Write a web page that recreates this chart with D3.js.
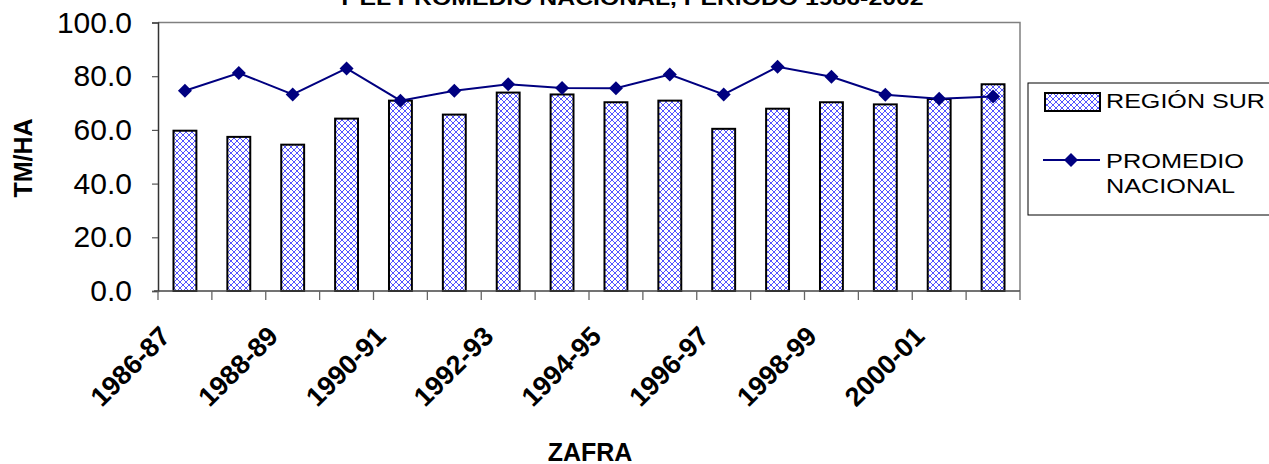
<!DOCTYPE html>
<html>
<head>
<meta charset="utf-8">
<script src="https://cdn.jsdelivr.net/npm/d3@7"></script>
<style>
  html, body { margin: 0; padding: 0; background: #fff; }
  svg { display: block; font-family: "Liberation Sans", Arial, sans-serif; }
</style>
</head>
<body>
<svg id="chart" width="1269" height="464"></svg>
<script>
// Zafras (harvest seasons)
const categories = ["1986-87","1987-88","1988-89","1989-90","1990-91","1991-92","1992-93","1993-94",
                    "1994-95","1995-96","1996-97","1997-98","1998-99","1999-00","2000-01","2001-02"];
// Yield, TM/HA
const regionSur = [59.7, 57.4, 54.5, 64.2, 70.9, 65.7, 73.9, 73.2, 70.3, 70.9, 60.4, 67.9, 70.3, 69.5, 71.5, 77.0];
const promedioNacional = [74.6, 81.2, 73.2, 82.9, 70.9, 74.6, 77.0, 75.6, 75.5, 80.6, 73.2, 83.5, 79.8, 73.1, 71.6, 72.4];
const yTicks = [0, 20, 40, 60, 80, 100];
const xTickLabels = ["1986-87","1988-89","1990-91","1992-93","1994-95","1996-97","1998-99","2000-01"];

const svg = d3.select("#chart");
const plotLeft = 158, plotRight = 1020, plotTop = 22.5, plotBottom = 291;

const x = d3.scaleBand().domain(categories).range([plotLeft, plotRight])
  .paddingInner(0.575).paddingOuter(0.2875);
const y = d3.scaleLinear().domain([0, 100]).range([plotBottom, plotTop]);

// crosshatch fill for the bars
const defs = svg.append("defs");
const pat = defs.append("pattern").attr("id", "hatch")
  .attr("patternUnits", "userSpaceOnUse").attr("width", 6).attr("height", 6);
pat.append("rect").attr("width", 6).attr("height", 6).attr("fill", "#fff");
pat.append("path").attr("d", "M0,0 L6,6 M6,0 L0,6")
  .attr("stroke", "#4040ff").attr("stroke-width", 0.9).attr("fill", "none");

// title (second line, partly above the frame)
svg.append("text").attr("x", 630).attr("y", 5).attr("text-anchor", "middle")
  .attr("font-weight", "bold").attr("font-size", 20)
  .attr("textLength", 587).attr("lengthAdjust", "spacingAndGlyphs")
  .text("Y EL PROMEDIO NACIONAL, PERIODO 1986-2002");

// plot frame (top and right)
svg.append("path").attr("d", `M${plotLeft},${plotTop} H${plotRight} V${plotBottom}`)
  .attr("fill", "none").attr("stroke", "#808080").attr("stroke-width", 1.5);

// bars
svg.append("g").selectAll("rect").data(regionSur).join("rect")
  .attr("x", (d, i) => x(categories[i]))
  .attr("width", x.bandwidth())
  .attr("y", d => y(d))
  .attr("height", d => y(0) - y(d))
  .attr("fill", "url(#hatch)")
  .attr("stroke", "#000").attr("stroke-width", 2);

// y axis
const yAxis = svg.append("g").attr("transform", `translate(${plotLeft},0)`)
  .call(d3.axisLeft(y).tickValues(yTicks).tickSize(6).tickPadding(20).tickFormat(d3.format(".1f")));
yAxis.select(".domain").attr("stroke", "#333").attr("stroke-width", 1.5);
yAxis.selectAll(".tick line").attr("stroke", "#555").attr("stroke-width", 1.2);
yAxis.selectAll(".tick text").attr("font-size", 30).attr("fill", "#000")
  .attr("font-family", "'Liberation Sans', Arial, sans-serif");

// x axis: tick marks on band boundaries
const step = x.step();
const bounds = d3.range(categories.length + 1).map(i => plotLeft + i * step);
svg.append("line").attr("x1", plotLeft - 4).attr("x2", plotRight).attr("y1", plotBottom).attr("y2", plotBottom)
  .attr("stroke", "#444").attr("stroke-width", 1.5);
svg.append("g").selectAll("line").data(bounds).join("line")
  .attr("x1", d => d).attr("x2", d => d).attr("y1", plotBottom).attr("y2", plotBottom + 9)
  .attr("stroke", "#666").attr("stroke-width", 1.3);

// rotated category labels
svg.append("g").selectAll("text").data(xTickLabels).join("text")
  .attr("transform", d => `translate(${x(d) + x.bandwidth() / 2 - 13},${plotBottom + 47}) rotate(-45)`)
  .attr("text-anchor", "end").attr("font-weight", "bold").attr("font-size", 27)
  .text(d => d);

// national average line
const cx = (d, i) => x(categories[i]) + x.bandwidth() / 2;
svg.append("path").datum(promedioNacional)
  .attr("d", d3.line().x(cx).y(d => y(d)))
  .attr("fill", "none").attr("stroke", "#000080").attr("stroke-width", 2);
const diamond = "M0,-7 L7,0 L0,7 L-7,0 Z";
svg.append("g").selectAll("path").data(promedioNacional).join("path")
  .attr("transform", (d, i) => `translate(${cx(d, i)},${y(d)})`)
  .attr("d", diamond).attr("fill", "#000080");

// axis titles
svg.append("text").attr("transform", "translate(32,158) rotate(-90)")
  .attr("text-anchor", "middle").attr("font-weight", "bold").attr("font-size", 25).text("TM/HA");
svg.append("text").attr("x", 590).attr("y", 461).attr("text-anchor", "middle")
  .attr("font-weight", "bold").attr("font-size", 25).text("ZAFRA");

// legend
const lg = svg.append("g");
lg.append("rect").attr("x", 1028).attr("y", 83).attr("width", 270).attr("height", 132)
  .attr("fill", "#fff").attr("stroke", "#000").attr("stroke-width", 1);
lg.append("rect").attr("x", 1045).attr("y", 93).attr("width", 55).attr("height", 18)
  .attr("fill", "url(#hatch)").attr("stroke", "#000").attr("stroke-width", 2);
lg.append("text").attr("x", 1106).attr("y", 108).attr("font-size", 21)
  .attr("textLength", 159).attr("lengthAdjust", "spacingAndGlyphs").text("REGIÓN SUR");
lg.append("line").attr("x1", 1043).attr("x2", 1100).attr("y1", 160).attr("y2", 160)
  .attr("stroke", "#000080").attr("stroke-width", 2);
lg.append("path").attr("transform", "translate(1071,160)").attr("d", diamond).attr("fill", "#000080");
lg.append("text").attr("x", 1106).attr("y", 168).attr("font-size", 21)
  .attr("textLength", 138).attr("lengthAdjust", "spacingAndGlyphs").text("PROMEDIO");
lg.append("text").attr("x", 1106).attr("y", 193).attr("font-size", 21)
  .attr("textLength", 129).attr("lengthAdjust", "spacingAndGlyphs").text("NACIONAL");
</script>
</body>
</html>
